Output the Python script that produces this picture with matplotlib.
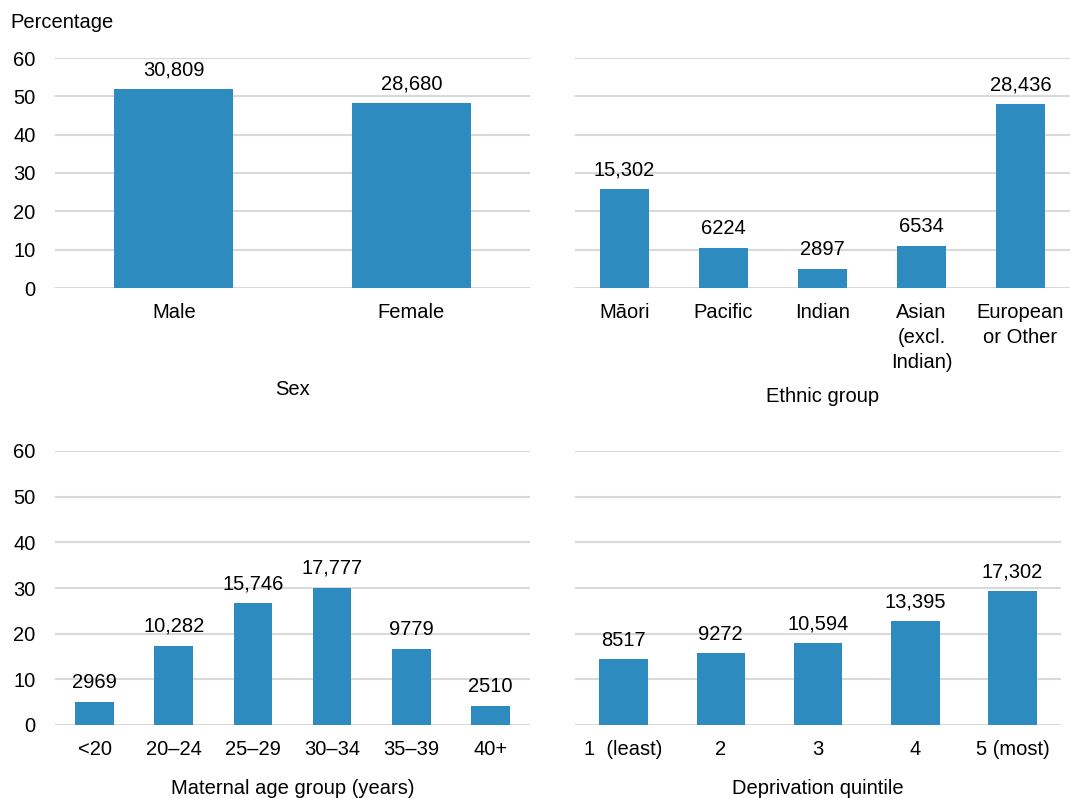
import matplotlib.pyplot as plt

plt.rcParams['font.family'] = ['Liberation Sans', 'DejaVu Sans']

# Data (percentage of births, with counts above bars)
sex_labels = ['Male', 'Female']
sex_pct = [51.8, 48.2]
sex_n = ['30,809', '28,680']

eth_labels = ['Māori', 'Pacific', 'Indian', 'Asian\n(excl.\nIndian)', 'European\nor Other']
eth_pct = [25.8, 10.5, 4.9, 11.0, 47.9]
eth_n = ['15,302', '6224', '2897', '6534', '28,436']

age_labels = ['<20', '20–24', '25–29', '30–34', '35–39', '40+']
age_pct = [5.0, 17.4, 26.7, 30.1, 16.6, 4.2]
age_n = ['2969', '10,282', '15,746', '17,777', '9779', '2510']

dep_labels = ['1  (least)', '2', '3', '4', '5 (most)']
dep_pct = [14.4, 15.7, 17.9, 22.7, 29.3]
dep_n = ['8517', '9272', '10,594', '13,395', '17,302']

W, H = 1070, 798
BAR = '#2E8BC0'
GRID = '#D9D9D9'
FS = 14.5


def px_axes(fig, left, top, right, bottom):
    return fig.add_axes([left / W, 1 - bottom / H, (right - left) / W, (bottom - top) / H])


def draw_panel(ax, labels, pct, counts, width, show_y, title, title_y):
    x = range(len(labels))
    bars = ax.bar(x, pct, width=width, color=BAR, zorder=3)
    for b, c in zip(bars, counts):
        ax.annotate(c, (b.get_x() + b.get_width() / 2, b.get_height()),
                    xytext=(0, 7), textcoords='offset points',
                    ha='center', va='bottom', fontsize=FS)
    ax.set_xlim(-0.5, len(labels) - 0.5)
    ax.set_ylim(0, 60)
    ax.set_yticks(range(0, 61, 10))
    ax.yaxis.grid(True, color=GRID, linewidth=1.5, zorder=0)
    ax.set_axisbelow(True)
    for s in ax.spines.values():
        s.set_visible(False)
    ax.tick_params(length=0, labelsize=FS, pad=11)
    ax.tick_params(axis='y', pad=14)
    ax.set_xticks(list(x))
    ax.set_xticklabels(labels, linespacing=1.38, va='top')
    if not show_y:
        ax.set_yticklabels([])
    ax.text(0.5, title_y, title, transform=ax.transAxes, ha='center',
            va='center', fontsize=FS)


fig = plt.figure(figsize=(W / 100, H / 100), dpi=100)

ax1 = px_axes(fig, 55, 58, 530, 288)
draw_panel(ax1, sex_labels, sex_pct, sex_n, 0.5, True, 'Sex', -0.44)
fig.text(10 / W, 1 - 23 / H, 'Percentage', fontsize=FS, va='center')

ax2 = px_axes(fig, 575, 58, 1070, 288)
draw_panel(ax2, eth_labels, eth_pct, eth_n, 0.5, False, 'Ethnic group', -0.47)

ax3 = px_axes(fig, 55, 451, 530, 725)
draw_panel(ax3, age_labels, age_pct, age_n, 0.49, True, 'Maternal age group (years)', -0.23)

ax4 = px_axes(fig, 575, 451, 1061, 725)
draw_panel(ax4, dep_labels, dep_pct, dep_n, 0.5, False, 'Deprivation quintile', -0.23)

fig.savefig('out.png', dpi=100)
